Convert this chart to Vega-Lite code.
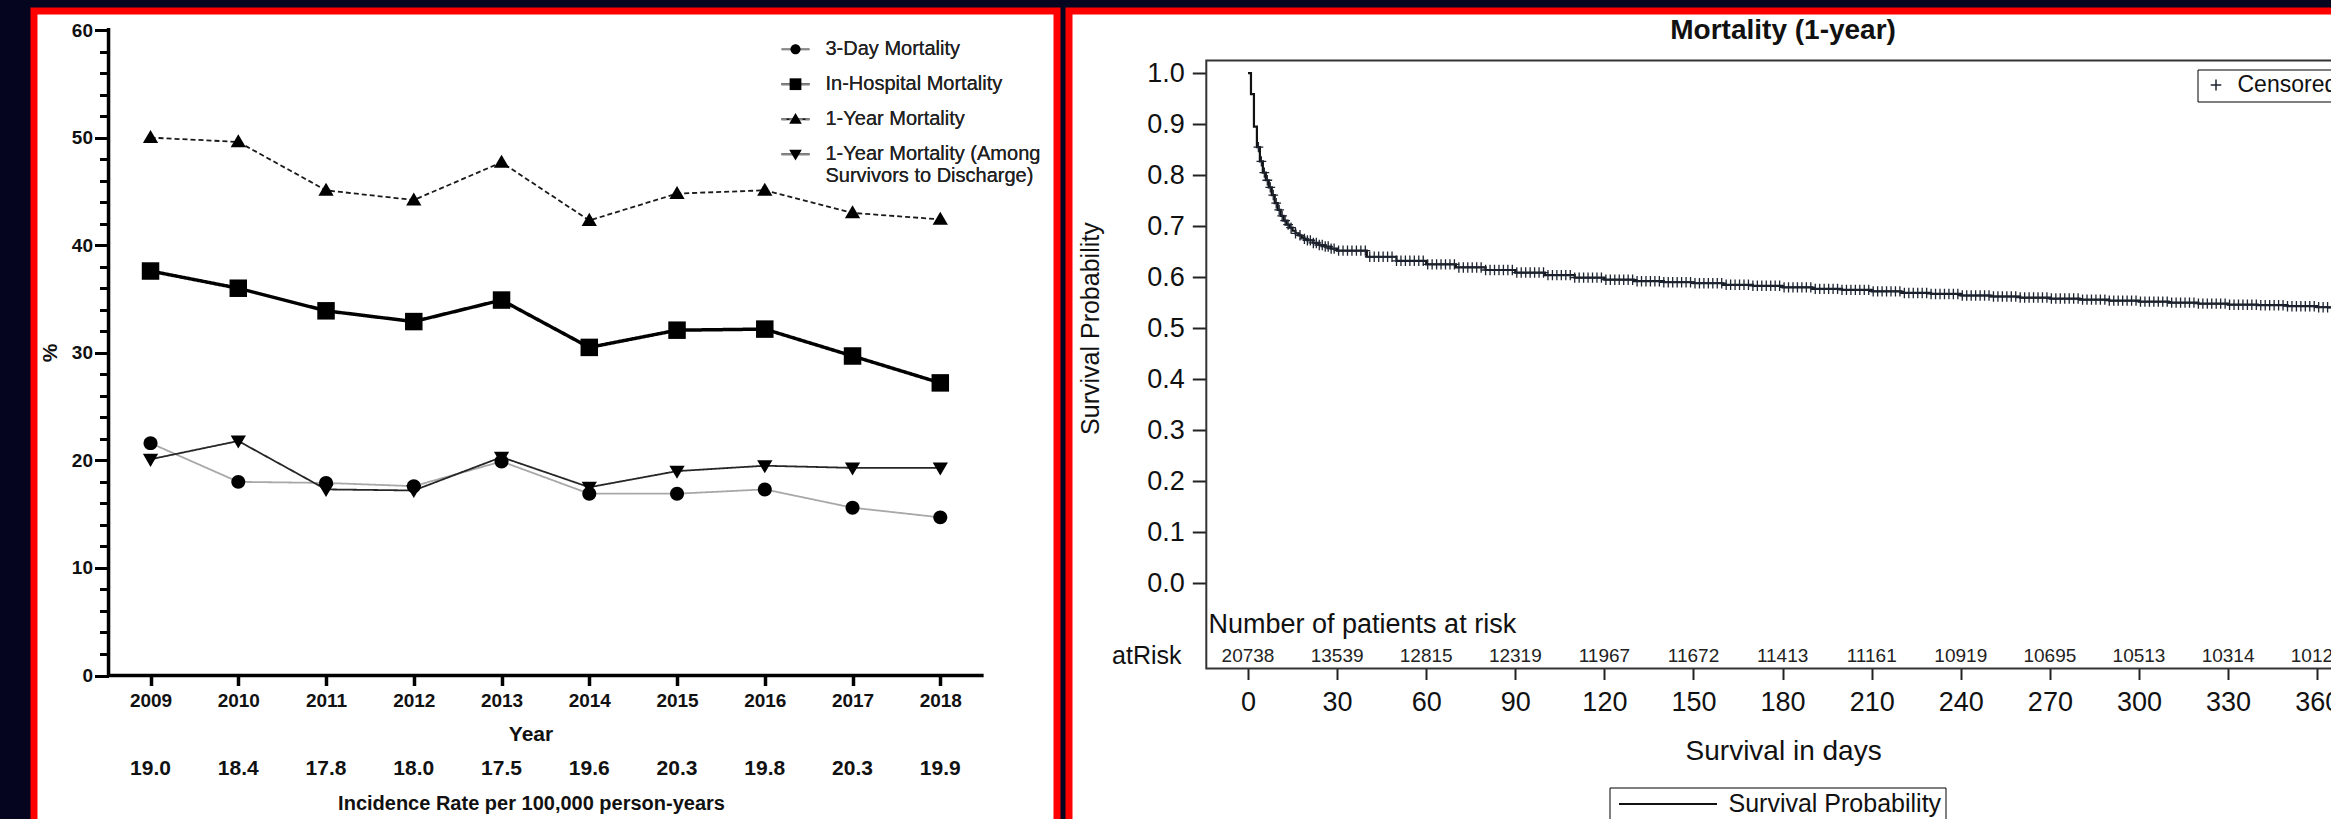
{
  "$schema": "https://vega.github.io/schema/vega-lite/v6.json",
  "background": "#05051f",
  "padding": {"left": 29, "top": 6, "right": 0, "bottom": 0},
  "spacing": 3,
  "config": {"font": "Liberation Sans", "axis": {"labelColor": "#111111", "titleColor": "#111111", "tickColor": "#111111"}},
  "datasets": {
    "mort": [
      {"year": 2009, "series": "3-Day Mortality", "value": 21.6},
      {"year": 2010, "series": "3-Day Mortality", "value": 18.0},
      {"year": 2011, "series": "3-Day Mortality", "value": 17.9},
      {"year": 2012, "series": "3-Day Mortality", "value": 17.6},
      {"year": 2013, "series": "3-Day Mortality", "value": 19.9},
      {"year": 2014, "series": "3-Day Mortality", "value": 16.9},
      {"year": 2015, "series": "3-Day Mortality", "value": 16.9},
      {"year": 2016, "series": "3-Day Mortality", "value": 17.3},
      {"year": 2017, "series": "3-Day Mortality", "value": 15.6},
      {"year": 2018, "series": "3-Day Mortality", "value": 14.7},
      {"year": 2009, "series": "In-Hospital Mortality", "value": 37.6},
      {"year": 2010, "series": "In-Hospital Mortality", "value": 36.0},
      {"year": 2011, "series": "In-Hospital Mortality", "value": 33.9},
      {"year": 2012, "series": "In-Hospital Mortality", "value": 32.9},
      {"year": 2013, "series": "In-Hospital Mortality", "value": 34.9},
      {"year": 2014, "series": "In-Hospital Mortality", "value": 30.5},
      {"year": 2015, "series": "In-Hospital Mortality", "value": 32.1},
      {"year": 2016, "series": "In-Hospital Mortality", "value": 32.2},
      {"year": 2017, "series": "In-Hospital Mortality", "value": 29.7},
      {"year": 2018, "series": "In-Hospital Mortality", "value": 27.2},
      {"year": 2009, "series": "1-Year Mortality", "value": 50.0},
      {"year": 2010, "series": "1-Year Mortality", "value": 49.6},
      {"year": 2011, "series": "1-Year Mortality", "value": 45.1},
      {"year": 2012, "series": "1-Year Mortality", "value": 44.2},
      {"year": 2013, "series": "1-Year Mortality", "value": 47.7},
      {"year": 2014, "series": "1-Year Mortality", "value": 42.3},
      {"year": 2015, "series": "1-Year Mortality", "value": 44.8},
      {"year": 2016, "series": "1-Year Mortality", "value": 45.1},
      {"year": 2017, "series": "1-Year Mortality", "value": 43.0},
      {"year": 2018, "series": "1-Year Mortality", "value": 42.4},
      {"year": 2009, "series": "1-Year Mortality (Among Survivors to Discharge)", "value": 20.1},
      {"year": 2010, "series": "1-Year Mortality (Among Survivors to Discharge)", "value": 21.8},
      {"year": 2011, "series": "1-Year Mortality (Among Survivors to Discharge)", "value": 17.3},
      {"year": 2012, "series": "1-Year Mortality (Among Survivors to Discharge)", "value": 17.2},
      {"year": 2013, "series": "1-Year Mortality (Among Survivors to Discharge)", "value": 20.3},
      {"year": 2014, "series": "1-Year Mortality (Among Survivors to Discharge)", "value": 17.5},
      {"year": 2015, "series": "1-Year Mortality (Among Survivors to Discharge)", "value": 19.0},
      {"year": 2016, "series": "1-Year Mortality (Among Survivors to Discharge)", "value": 19.5},
      {"year": 2017, "series": "1-Year Mortality (Among Survivors to Discharge)", "value": 19.3},
      {"year": 2018, "series": "1-Year Mortality (Among Survivors to Discharge)", "value": 19.3}
    ],
    "incidence": [
      {"year": 2009, "rate": 19.0}, {"year": 2010, "rate": 18.4}, {"year": 2011, "rate": 17.8},
      {"year": 2012, "rate": 18.0}, {"year": 2013, "rate": 17.5}, {"year": 2014, "rate": 19.6},
      {"year": 2015, "rate": 20.3}, {"year": 2016, "rate": 19.8}, {"year": 2017, "rate": 20.3},
      {"year": 2018, "rate": 19.9}
    ],
    "km": [
      {"day": 0, "surv": 1.0}, {"day": 1, "surv": 0.959}, {"day": 2, "surv": 0.895}, {"day": 3, "surv": 0.855},
      {"day": 4, "surv": 0.827}, {"day": 5, "surv": 0.805}, {"day": 6, "surv": 0.79}, {"day": 7, "surv": 0.776},
      {"day": 8, "surv": 0.761}, {"day": 9, "surv": 0.745}, {"day": 10, "surv": 0.732}, {"day": 11, "surv": 0.72},
      {"day": 12, "surv": 0.711}, {"day": 13, "surv": 0.703}, {"day": 14, "surv": 0.697}, {"day": 15, "surv": 0.691},
      {"day": 16, "surv": 0.686}, {"day": 17, "surv": 0.682}, {"day": 18, "surv": 0.678}, {"day": 19, "surv": 0.675},
      {"day": 20, "surv": 0.672}, {"day": 22, "surv": 0.667}, {"day": 24, "surv": 0.663}, {"day": 26, "surv": 0.66},
      {"day": 28, "surv": 0.656}, {"day": 30, "surv": 0.652}, {"day": 40, "surv": 0.64}, {"day": 50, "surv": 0.632},
      {"day": 60, "surv": 0.625}, {"day": 70, "surv": 0.619}, {"day": 80, "surv": 0.614}, {"day": 90, "surv": 0.609},
      {"day": 100, "surv": 0.604}, {"day": 110, "surv": 0.599}, {"day": 120, "surv": 0.595}, {"day": 130, "surv": 0.592},
      {"day": 140, "surv": 0.59}, {"day": 150, "surv": 0.588}, {"day": 160, "surv": 0.585}, {"day": 170, "surv": 0.583},
      {"day": 180, "surv": 0.58}, {"day": 190, "surv": 0.577}, {"day": 200, "surv": 0.575}, {"day": 210, "surv": 0.572},
      {"day": 220, "surv": 0.569}, {"day": 230, "surv": 0.567}, {"day": 240, "surv": 0.564}, {"day": 250, "surv": 0.562},
      {"day": 260, "surv": 0.56}, {"day": 270, "surv": 0.558}, {"day": 280, "surv": 0.556}, {"day": 290, "surv": 0.554},
      {"day": 300, "surv": 0.552}, {"day": 310, "surv": 0.55}, {"day": 320, "surv": 0.548}, {"day": 330, "surv": 0.546},
      {"day": 340, "surv": 0.545}, {"day": 350, "surv": 0.543}, {"day": 360, "surv": 0.541}, {"day": 366, "surv": 0.54}
    ],
    "censor": [
      {"day": 3.5, "surv": 0.855}, {"day": 4.5, "surv": 0.827}, {"day": 5.5, "surv": 0.805}, {"day": 6.5, "surv": 0.79},
      {"day": 7.5, "surv": 0.776}, {"day": 8.5, "surv": 0.761}, {"day": 9.5, "surv": 0.745}, {"day": 10.5, "surv": 0.732},
      {"day": 11.5, "surv": 0.72}, {"day": 12.5, "surv": 0.711}, {"day": 13.5, "surv": 0.703}, {"day": 14.5, "surv": 0.697},
      {"day": 16, "surv": 0.686}, {"day": 17.5, "surv": 0.682}, {"day": 19, "surv": 0.675}, {"day": 20, "surv": 0.672},
      {"day": 21, "surv": 0.672}, {"day": 22, "surv": 0.667}, {"day": 23, "surv": 0.667}, {"day": 24, "surv": 0.663},
      {"day": 25, "surv": 0.663}, {"day": 26, "surv": 0.66}, {"day": 27, "surv": 0.66}, {"day": 28, "surv": 0.656},
      {"day": 29, "surv": 0.656},
      {"day": 30.5, "surv": 0.652}, {"day": 32, "surv": 0.652}, {"day": 33.5, "surv": 0.652}, {"day": 35, "surv": 0.652},
      {"day": 36.5, "surv": 0.652}, {"day": 38, "surv": 0.652}, {"day": 39.5, "surv": 0.652}, {"day": 41, "surv": 0.64},
      {"day": 42.5, "surv": 0.64}, {"day": 44, "surv": 0.64}, {"day": 45.5, "surv": 0.64}, {"day": 47, "surv": 0.64},
      {"day": 48.5, "surv": 0.64}, {"day": 50, "surv": 0.632}, {"day": 51.5, "surv": 0.632}, {"day": 53, "surv": 0.632},
      {"day": 54.5, "surv": 0.632}, {"day": 56, "surv": 0.632}, {"day": 57.5, "surv": 0.632}, {"day": 59, "surv": 0.632},
      {"day": 60.5, "surv": 0.625}, {"day": 62, "surv": 0.625}, {"day": 63.5, "surv": 0.625}, {"day": 65, "surv": 0.625},
      {"day": 66.5, "surv": 0.625}, {"day": 68, "surv": 0.625}, {"day": 69.5, "surv": 0.625}, {"day": 71, "surv": 0.619},
      {"day": 72.5, "surv": 0.619}, {"day": 74, "surv": 0.619}, {"day": 75.5, "surv": 0.619}, {"day": 77, "surv": 0.619},
      {"day": 78.5, "surv": 0.619}, {"day": 80, "surv": 0.614}, {"day": 81.5, "surv": 0.614}, {"day": 83, "surv": 0.614},
      {"day": 84.5, "surv": 0.614}, {"day": 86, "surv": 0.614}, {"day": 87.5, "surv": 0.614}, {"day": 89, "surv": 0.614},
      {"day": 90.5, "surv": 0.609}, {"day": 92, "surv": 0.609}, {"day": 93.5, "surv": 0.609}, {"day": 95, "surv": 0.609},
      {"day": 96.5, "surv": 0.609}, {"day": 98, "surv": 0.609}, {"day": 99.5, "surv": 0.609}, {"day": 101, "surv": 0.604},
      {"day": 102.5, "surv": 0.604}, {"day": 104, "surv": 0.604}, {"day": 105.5, "surv": 0.604}, {"day": 107, "surv": 0.604},
      {"day": 108.5, "surv": 0.604}, {"day": 110, "surv": 0.599}, {"day": 111.5, "surv": 0.599}, {"day": 113, "surv": 0.599},
      {"day": 114.5, "surv": 0.599}, {"day": 116, "surv": 0.599}, {"day": 117.5, "surv": 0.599}, {"day": 119, "surv": 0.599},
      {"day": 120.5, "surv": 0.595}, {"day": 122, "surv": 0.595}, {"day": 123.5, "surv": 0.595}, {"day": 125, "surv": 0.595},
      {"day": 126.5, "surv": 0.595}, {"day": 128, "surv": 0.595}, {"day": 129.5, "surv": 0.595}, {"day": 131, "surv": 0.592},
      {"day": 132.5, "surv": 0.592}, {"day": 134, "surv": 0.592}, {"day": 135.5, "surv": 0.592}, {"day": 137, "surv": 0.592},
      {"day": 138.5, "surv": 0.592}, {"day": 140, "surv": 0.59}, {"day": 141.5, "surv": 0.59}, {"day": 143, "surv": 0.59},
      {"day": 144.5, "surv": 0.59}, {"day": 146, "surv": 0.59}, {"day": 147.5, "surv": 0.59}, {"day": 149, "surv": 0.59},
      {"day": 150.5, "surv": 0.588}, {"day": 152, "surv": 0.588}, {"day": 153.5, "surv": 0.588}, {"day": 155, "surv": 0.588},
      {"day": 156.5, "surv": 0.588}, {"day": 158, "surv": 0.588}, {"day": 159.5, "surv": 0.588}, {"day": 161, "surv": 0.585},
      {"day": 162.5, "surv": 0.585}, {"day": 164, "surv": 0.585}, {"day": 165.5, "surv": 0.585}, {"day": 167, "surv": 0.585},
      {"day": 168.5, "surv": 0.585}, {"day": 170, "surv": 0.583}, {"day": 171.5, "surv": 0.583}, {"day": 173, "surv": 0.583},
      {"day": 174.5, "surv": 0.583}, {"day": 176, "surv": 0.583}, {"day": 177.5, "surv": 0.583}, {"day": 179, "surv": 0.583},
      {"day": 180.5, "surv": 0.58}, {"day": 182, "surv": 0.58}, {"day": 183.5, "surv": 0.58}, {"day": 185, "surv": 0.58},
      {"day": 186.5, "surv": 0.58}, {"day": 188, "surv": 0.58}, {"day": 189.5, "surv": 0.58}, {"day": 191, "surv": 0.577},
      {"day": 192.5, "surv": 0.577}, {"day": 194, "surv": 0.577}, {"day": 195.5, "surv": 0.577}, {"day": 197, "surv": 0.577},
      {"day": 198.5, "surv": 0.577}, {"day": 200, "surv": 0.575}, {"day": 201.5, "surv": 0.575}, {"day": 203, "surv": 0.575},
      {"day": 204.5, "surv": 0.575}, {"day": 206, "surv": 0.575}, {"day": 207.5, "surv": 0.575}, {"day": 209, "surv": 0.575},
      {"day": 210.5, "surv": 0.572}, {"day": 212, "surv": 0.572}, {"day": 213.5, "surv": 0.572}, {"day": 215, "surv": 0.572},
      {"day": 216.5, "surv": 0.572}, {"day": 218, "surv": 0.572}, {"day": 219.5, "surv": 0.572}, {"day": 221, "surv": 0.569},
      {"day": 222.5, "surv": 0.569}, {"day": 224, "surv": 0.569}, {"day": 225.5, "surv": 0.569}, {"day": 227, "surv": 0.569},
      {"day": 228.5, "surv": 0.569}, {"day": 230, "surv": 0.567}, {"day": 231.5, "surv": 0.567}, {"day": 233, "surv": 0.567},
      {"day": 234.5, "surv": 0.567}, {"day": 236, "surv": 0.567}, {"day": 237.5, "surv": 0.567}, {"day": 239, "surv": 0.567},
      {"day": 240.5, "surv": 0.564}, {"day": 242, "surv": 0.564}, {"day": 243.5, "surv": 0.564}, {"day": 245, "surv": 0.564},
      {"day": 246.5, "surv": 0.564}, {"day": 248, "surv": 0.564}, {"day": 249.5, "surv": 0.564}, {"day": 251, "surv": 0.562},
      {"day": 252.5, "surv": 0.562}, {"day": 254, "surv": 0.562}, {"day": 255.5, "surv": 0.562}, {"day": 257, "surv": 0.562},
      {"day": 258.5, "surv": 0.562}, {"day": 260, "surv": 0.56}, {"day": 261.5, "surv": 0.56}, {"day": 263, "surv": 0.56},
      {"day": 264.5, "surv": 0.56}, {"day": 266, "surv": 0.56}, {"day": 267.5, "surv": 0.56}, {"day": 269, "surv": 0.56},
      {"day": 270.5, "surv": 0.558}, {"day": 272, "surv": 0.558}, {"day": 273.5, "surv": 0.558}, {"day": 275, "surv": 0.558},
      {"day": 276.5, "surv": 0.558}, {"day": 278, "surv": 0.558}, {"day": 279.5, "surv": 0.558}, {"day": 281, "surv": 0.556},
      {"day": 282.5, "surv": 0.556}, {"day": 284, "surv": 0.556}, {"day": 285.5, "surv": 0.556}, {"day": 287, "surv": 0.556},
      {"day": 288.5, "surv": 0.556}, {"day": 290, "surv": 0.554}, {"day": 291.5, "surv": 0.554}, {"day": 293, "surv": 0.554},
      {"day": 294.5, "surv": 0.554}, {"day": 296, "surv": 0.554}, {"day": 297.5, "surv": 0.554}, {"day": 299, "surv": 0.554},
      {"day": 300.5, "surv": 0.552}, {"day": 302, "surv": 0.552}, {"day": 303.5, "surv": 0.552}, {"day": 305, "surv": 0.552},
      {"day": 306.5, "surv": 0.552}, {"day": 308, "surv": 0.552}, {"day": 309.5, "surv": 0.552}, {"day": 311, "surv": 0.55},
      {"day": 312.5, "surv": 0.55}, {"day": 314, "surv": 0.55}, {"day": 315.5, "surv": 0.55}, {"day": 317, "surv": 0.55},
      {"day": 318.5, "surv": 0.55}, {"day": 320, "surv": 0.548}, {"day": 321.5, "surv": 0.548}, {"day": 323, "surv": 0.548},
      {"day": 324.5, "surv": 0.548}, {"day": 326, "surv": 0.548}, {"day": 327.5, "surv": 0.548}, {"day": 329, "surv": 0.548},
      {"day": 330.5, "surv": 0.546}, {"day": 332, "surv": 0.546}, {"day": 333.5, "surv": 0.546}, {"day": 335, "surv": 0.546},
      {"day": 336.5, "surv": 0.546}, {"day": 338, "surv": 0.546}, {"day": 339.5, "surv": 0.546}, {"day": 341, "surv": 0.545},
      {"day": 342.5, "surv": 0.545}, {"day": 344, "surv": 0.545}, {"day": 345.5, "surv": 0.545}, {"day": 347, "surv": 0.545},
      {"day": 348.5, "surv": 0.545}, {"day": 350, "surv": 0.543}, {"day": 351.5, "surv": 0.543}, {"day": 353, "surv": 0.543},
      {"day": 354.5, "surv": 0.543}, {"day": 356, "surv": 0.543}, {"day": 357.5, "surv": 0.543}, {"day": 359, "surv": 0.543},
      {"day": 360.5, "surv": 0.541}, {"day": 362, "surv": 0.541}, {"day": 363.5, "surv": 0.541}, {"day": 365, "surv": 0.54}
    ],
    "atrisk": [
      {"day": 0, "n": 20738}, {"day": 30, "n": 13539}, {"day": 60, "n": 12815}, {"day": 90, "n": 12319},
      {"day": 120, "n": 11967}, {"day": 150, "n": 11672}, {"day": 180, "n": 11413}, {"day": 210, "n": 11161},
      {"day": 240, "n": 10919}, {"day": 270, "n": 10695}, {"day": 300, "n": 10513}, {"day": 330, "n": 10314},
      {"day": 360, "n": 10126}
    ]
  },
  "resolve": {
    "scale": {"x": "independent", "y": "independent", "color": "independent", "shape": "independent", "strokeDash": "independent"},
    "legend": {"color": "independent", "shape": "independent", "strokeDash": "independent"}
  },
  "hconcat": [
    {
      "width": 1023,
      "height": 820.5,
      "view": {"fill": "#ffffff", "stroke": "#ff0000", "strokeWidth": 7, "strokeCap": "square", "strokeDash": [1843.5, 1023, 830.5]},
      "resolve": {"axis": {"y": "independent"}},
      "layer": [
        {
          "data": {"name": "mort"},
          "mark": {"type": "line"},
          "encoding": {
            "x": {
              "field": "year", "type": "quantitative",
              "scale": {"domain": [2007.672, 2019.33], "nice": false, "zero": false},
              "axis": {
                "values": [2009, 2010, 2011, 2012, 2013, 2014, 2015, 2016, 2017, 2018], "format": "d",
                "offset": -156, "domain": false, "grid": false, "tickSize": 10, "tickWidth": 3.5, "tickColor": "#000000",
                "labelFontSize": 19, "labelFontWeight": "bold", "labelPadding": 6, "labelOverlap": false, "labelFlush": false,
                "title": "Year", "titleFontSize": 21, "titleFontWeight": "bold", "titleX": 496.5, "titleY": 59, "titleBaseline": "middle", "titleAlign": "center"
              }
            },
            "y": {
              "field": "value", "type": "quantitative",
              "scale": {"domain": [-14.501, 61.77], "nice": false, "zero": false},
              "axis": {
                "orient": "left",
                "values": [0, 10, 20, 30, 40, 50, 60], "format": "d",
                "offset": -74.5, "domain": false, "grid": false, "tickSize": 14, "tickWidth": 3, "tickColor": "#000000",
                "labelFontSize": 19, "labelFontWeight": "bold", "labelPadding": 2, "labelOverlap": false, "labelFlush": false,
                "title": "%", "titleFontSize": 21, "titleFontWeight": "bold", "titleX": -58, "titleY": 341.5, "titleBaseline": "middle", "titleAngle": -90, "titleAlign": "center"
              }
            },
            "color": {
              "field": "series", "type": "nominal",
              "sort": ["3-Day Mortality", "In-Hospital Mortality", "1-Year Mortality", "1-Year Mortality (Among Survivors to Discharge)"],
              "scale": {"range": ["#a8a8a8", "#000000", "#1a1a1a", "#262626"]},
              "legend": {
                "orient": "none", "legendX": 746.5, "legendY": 23.2, "title": null, "padding": 0,
                "symbolType": "stroke", "symbolSize": 784, "symbolStrokeWidth": 2,
                "rowPadding": 10, "labelFontSize": 20, "labelOffset": 15, "labelLimit": 400, "labelColor": "#222222",
                "labelExpr": "datum.value === '1-Year Mortality (Among Survivors to Discharge)' ? ['1-Year Mortality (Among', 'Survivors to Discharge)'] : datum.label"
              }
            },
            "strokeDash": {
              "field": "series", "type": "nominal",
              "sort": ["3-Day Mortality", "In-Hospital Mortality", "1-Year Mortality", "1-Year Mortality (Among Survivors to Discharge)"],
              "scale": {"range": [[1, 0], [1, 0], [5, 3], [1, 0]]},
              "legend": {
                "orient": "none", "legendX": 746.5, "legendY": 23.2, "title": null, "padding": 0,
                "symbolType": "stroke", "symbolSize": 784, "symbolStrokeWidth": 2,
                "rowPadding": 10, "labelFontSize": 20, "labelOffset": 15, "labelLimit": 400, "labelColor": "#222222",
                "labelExpr": "datum.value === '1-Year Mortality (Among Survivors to Discharge)' ? ['1-Year Mortality (Among', 'Survivors to Discharge)'] : datum.label"
              }
            },
            "strokeWidth": {"condition": {"test": "datum.series === 'In-Hospital Mortality'", "value": 3.5}, "value": 1.8}
          }
        },
        {
          "data": {"name": "mort"},
          "mark": {"type": "point", "filled": true, "opacity": 1, "color": "#000000"},
          "encoding": {
            "x": {"field": "year", "type": "quantitative", "scale": {"domain": [2007.672, 2019.33], "nice": false, "zero": false}},
            "y": {"field": "value", "type": "quantitative", "scale": {"domain": [-14.501, 61.77], "nice": false, "zero": false}, "axis": null},
            "size": {"condition": [
              {"test": "datum.series === '3-Day Mortality'", "value": 1505},
              {"test": "datum.series === 'In-Hospital Mortality'", "value": 1734}
            ], "value": 1150},
            "shape": {
              "field": "series", "type": "nominal",
              "scale": {
                "domain": ["3-Day Mortality", "In-Hospital Mortality", "1-Year Mortality", "1-Year Mortality (Among Survivors to Discharge)"],
                "range": [
                  "M-0.36,0A0.36,0.36,0,1,0,0.36,0A0.36,0.36,0,1,0,-0.36,0Z",
                  "M-0.42,-0.42H0.42V0.42H-0.42Z",
                  "M0,-0.45L0.45,0.32H-0.45Z",
                  "M-0.45,-0.32H0.45L0,0.45Z"
                ]
              },
              "legend": {
                "orient": "none", "legendX": 746.5, "legendY": 23.2, "title": null, "padding": 0,
                "symbolSize": 784, "symbolFillColor": "#000000", "symbolOpacity": 1,
                "rowPadding": 10, "labelFontSize": 20, "labelOffset": 15, "labelLimit": 400, "labelOpacity": 0, "labelColor": "#222222",
                "labelExpr": "datum.value === '1-Year Mortality (Among Survivors to Discharge)' ? ['1-Year Mortality (Among', 'Survivors to Discharge)'] : datum.label"
              }
            }
          }
        },
        {
          "data": {"values": [{}]},
          "mark": {"type": "rule", "strokeWidth": 3.5, "color": "#000000"},
          "encoding": {
            "x": {"datum": 2008.5214, "type": "quantitative", "scale": {"domain": [2007.672, 2019.33], "nice": false, "zero": false}},
            "y": {
              "datum": 0, "type": "quantitative", "scale": {"domain": [-14.501, 61.77], "nice": false, "zero": false},
              "axis": {
                "orient": "left",
                "values": [2, 4, 6, 8, 12, 14, 16, 18, 22, 24, 26, 28, 32, 34, 36, 38, 42, 44, 46, 48, 52, 54, 56, 58],
                "offset": -74.5, "domain": false, "grid": false, "labels": false, "title": null,
                "tickSize": 9, "tickWidth": 3, "tickColor": "#000000"
              }
            },
            "y2": {"datum": 60.2}
          }
        },
        {
          "data": {"values": [{}]},
          "mark": {"type": "rule", "strokeWidth": 3.5, "color": "#000000"},
          "encoding": {
            "x": {"datum": 2008.5214, "type": "quantitative", "scale": {"domain": [2007.672, 2019.33], "nice": false, "zero": false}},
            "x2": {"datum": 2018.494},
            "y": {"datum": 0, "type": "quantitative", "scale": {"domain": [-14.501, 61.77], "nice": false, "zero": false}, "axis": null}
          }
        },
        {
          "data": {"name": "incidence"},
          "mark": {"type": "text", "fontSize": 21, "fontWeight": "bold", "color": "#111111", "baseline": "middle", "align": "center"},
          "encoding": {
            "x": {"field": "year", "type": "quantitative", "scale": {"domain": [2007.672, 2019.33], "nice": false, "zero": false}},
            "y": {"datum": -8.645, "type": "quantitative", "scale": {"domain": [-14.501, 61.77], "nice": false, "zero": false}, "axis": null},
            "text": {"field": "rate", "type": "quantitative", "format": ".1f"}
          }
        },
        {
          "data": {"values": [{}]},
          "mark": {"type": "text", "fontSize": 20, "fontWeight": "bold", "color": "#111111", "baseline": "middle", "align": "center"},
          "encoding": {
            "x": {"datum": 2013.342, "type": "quantitative", "scale": {"domain": [2007.672, 2019.33], "nice": false, "zero": false}},
            "y": {"datum": -11.991, "type": "quantitative", "scale": {"domain": [-14.501, 61.77], "nice": false, "zero": false}, "axis": null},
            "text": {"value": "Incidence Rate per 100,000 person-years"}
          }
        }
      ]
    },
    {
      "width": 1334.5,
      "height": 820.5,
      "view": {"fill": "#ffffff", "stroke": "#ff0000", "strokeWidth": 7},
      "layer": [
        {
          "data": {"name": "km"},
          "mark": {"type": "line", "interpolate": "step-after", "strokeWidth": 2.2},
          "encoding": {
            "x": {
              "field": "day", "type": "quantitative",
              "scale": {"domain": [-60.27, 389.06], "nice": false, "zero": false},
              "axis": {
                "values": [0, 30, 60, 90, 120, 150, 180, 210, 240, 270, 300, 330, 360], "format": "d",
                "offset": -163, "domain": false, "grid": false, "tickSize": 11, "tickWidth": 2, "tickColor": "#222222",
                "labelFontSize": 27, "labelPadding": 10, "labelOverlap": false, "labelFlush": false,
                "title": "Survival in days", "titleFontSize": 28, "titleFontWeight": "normal", "titleX": 714.1, "titleY": 83, "titleBaseline": "middle", "titleAlign": "center"
              }
            },
            "y": {
              "field": "surv", "type": "quantitative",
              "scale": {"domain": [-0.4871, 1.1219], "nice": false, "zero": false},
              "axis": {
                "values": [0, 0.1, 0.2, 0.3, 0.4, 0.5, 0.6, 0.7, 0.8, 0.9, 1.0], "format": ".1f",
                "offset": -137.3, "domain": false, "grid": false, "tickSize": 14, "tickWidth": 2, "tickColor": "#222222",
                "labelFontSize": 27, "labelPadding": 8, "labelOverlap": false, "labelFlush": false,
                "title": "Survival Probability", "titleFontSize": 25, "titleFontWeight": "normal", "titleX": -116, "titleY": 317.1, "titleBaseline": "middle", "titleAngle": -90, "titleAlign": "center"
              }
            },
            "color": {
              "datum": "Survival Probability", "type": "nominal",
              "scale": {"range": ["#111111"]},
              "legend": {
                "orient": "none", "legendX": 540.5, "legendY": 776.5, "title": null, "padding": 4,
                "strokeColor": "#000000", "symbolType": "M-1,0H13", "symbolSize": 196, "symbolStrokeWidth": 2,
                "labelFontSize": 25, "labelOffset": 90, "labelLimit": 400, "labelColor": "#111111"
              }
            }
          }
        },
        {
          "data": {"name": "censor"},
          "mark": {"type": "point", "filled": false, "strokeWidth": 1.3, "color": "#1c2330", "opacity": 1, "size": 169},
          "encoding": {
            "x": {"field": "day", "type": "quantitative", "scale": {"domain": [-60.27, 389.06], "nice": false, "zero": false}},
            "y": {"field": "surv", "type": "quantitative", "scale": {"domain": [-0.4871, 1.1219], "nice": false, "zero": false}},
            "shape": {
              "datum": "Censored", "type": "nominal",
              "scale": {"range": ["M-0.75,0H0.75M0,-0.8V0.8"]},
              "legend": {
                "orient": "none", "legendX": 1128.5, "legendY": 58.5, "title": null, "padding": 4,
                "strokeColor": "#000000", "symbolSize": 196, "symbolStrokeWidth": 1.5, "symbolOffset": 3,
                "labelFontSize": 23, "labelOffset": 10, "labelLimit": 400, "labelColor": "#111111"
              }
            }
          }
        },
        {
          "data": {"values": [{}]},
          "mark": {"type": "rect", "filled": false, "stroke": "#333333", "strokeWidth": 2},
          "encoding": {
            "x": {"datum": -14.04, "type": "quantitative", "scale": {"domain": [-60.27, 389.06], "nice": false, "zero": false}},
            "x2": {"datum": 374.4},
            "y": {"datum": 1.0248, "type": "quantitative", "scale": {"domain": [-0.4871, 1.1219], "nice": false, "zero": false}},
            "y2": {"datum": -0.1675}
          }
        },
        {
          "data": {"name": "atrisk"},
          "mark": {"type": "text", "fontSize": 19, "color": "#222222", "baseline": "middle", "align": "center"},
          "encoding": {
            "x": {"field": "day", "type": "quantitative", "scale": {"domain": [-60.27, 389.06], "nice": false, "zero": false}},
            "y": {"datum": -0.1439, "type": "quantitative", "scale": {"domain": [-0.4871, 1.1219], "nice": false, "zero": false}},
            "text": {"field": "n", "type": "quantitative", "format": "d"}
          }
        },
        {
          "data": {"values": [{}]},
          "mark": {"type": "text", "fontSize": 27, "color": "#111111", "baseline": "middle", "align": "left"},
          "encoding": {
            "x": {"datum": -13.3, "type": "quantitative", "scale": {"domain": [-60.27, 389.06], "nice": false, "zero": false}},
            "y": {"datum": -0.0812, "type": "quantitative", "scale": {"domain": [-0.4871, 1.1219], "nice": false, "zero": false}},
            "text": {"value": "Number of patients at risk"}
          }
        },
        {
          "data": {"values": [{}]},
          "mark": {"type": "text", "fontSize": 25, "color": "#111111", "baseline": "middle", "align": "right"},
          "encoding": {
            "x": {"datum": -22.39, "type": "quantitative", "scale": {"domain": [-60.27, 389.06], "nice": false, "zero": false}},
            "y": {"datum": -0.1439, "type": "quantitative", "scale": {"domain": [-0.4871, 1.1219], "nice": false, "zero": false}},
            "text": {"value": "atRisk"}
          }
        },
        {
          "data": {"values": [{}]},
          "mark": {"type": "text", "fontSize": 28, "fontWeight": "bold", "color": "#111111", "baseline": "middle", "align": "center"},
          "encoding": {
            "x": {"datum": 180.17, "type": "quantitative", "scale": {"domain": [-60.27, 389.06], "nice": false, "zero": false}},
            "y": {"datum": 1.0817, "type": "quantitative", "scale": {"domain": [-0.4871, 1.1219], "nice": false, "zero": false}},
            "text": {"value": "Mortality (1-year)"}
          }
        }
      ]
    }
  ]
}
